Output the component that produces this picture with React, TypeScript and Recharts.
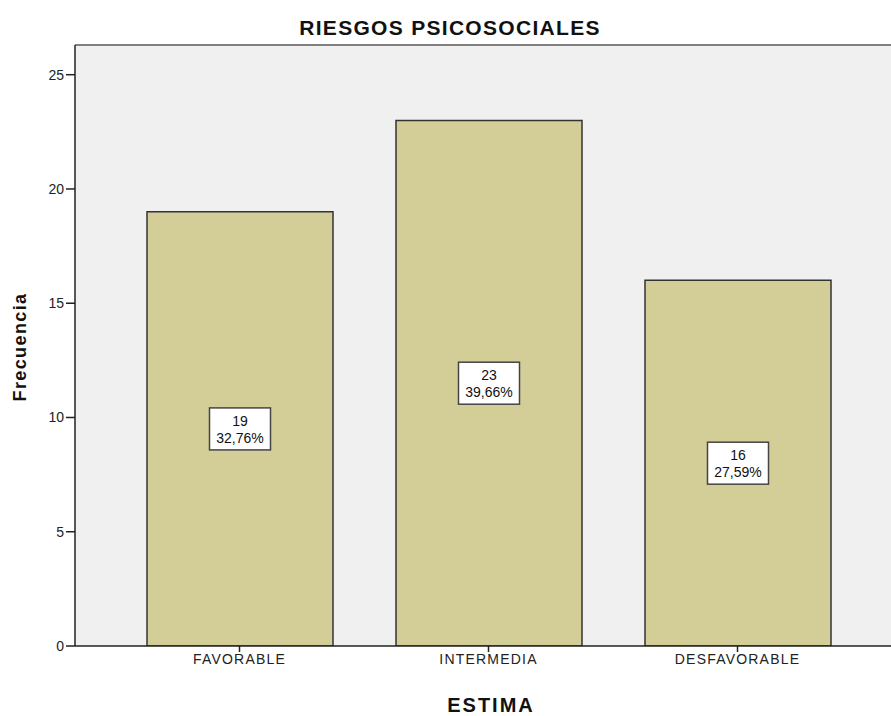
import React from "react";
import {
  BarChart,
  Bar,
  XAxis,
  YAxis,
  CartesianGrid,
  ReferenceLine,
  LabelList,
  Label,
} from "recharts";

const categories = ["FAVORABLE", "INTERMEDIA", "DESFAVORABLE"];
const counts = [19, 23, 16];
const percents = ["32,76%", "39,66%", "27,59%"];
const yTicks = [0, 5, 10, 15, 20, 25];

const data = categories.map((c, i) => ({ name: c, value: counts[i], pct: percents[i] }));

const FONT = "'Liberation Sans', Arial, sans-serif";
const Y_MAX = 26.3;

function BoxLabel(props: any) {
  const { x, y, width, height, index } = props;
  const cx = x + width / 2;
  const cy = y + height / 2;
  const w = 61;
  const h = 42;
  return (
    <g>
      <rect x={cx - w / 2} y={cy - h / 2} width={w} height={h} fill="#fff" stroke="#444" strokeWidth={1.5} />
      <text x={cx} y={cy - 3} textAnchor="middle" fontSize={14} fontFamily={FONT} fill="#111">
        {counts[index]}
      </text>
      <text x={cx} y={cy + 14} textAnchor="middle" fontSize={14} fontFamily={FONT} fill="#111">
        {percents[index]}
      </text>
    </g>
  );
}

// axis titles drawn at fixed spots around the plot
function YTitle() {
  return (
    <text
      x={20}
      y={347}
      transform="rotate(-90, 20, 347)"
      textAnchor="middle"
      dominantBaseline="central"
      fontFamily={FONT}
      fontWeight="bold"
      fontSize={18}
      letterSpacing={1.4}
      fill="#111"
    >
      Frecuencia
    </text>
  );
}

function XTitle() {
  return (
    <text
      x={491}
      y={712}
      textAnchor="middle"
      fontFamily={FONT}
      fontWeight="bold"
      fontSize={20}
      letterSpacing={2}
      fill="#111"
    >
      ESTIMA
    </text>
  );
}

export default function App() {
  return (
    <div style={{ position: "absolute", left: 0, top: 0, width: 891, height: 716, background: "#fff" }}>
      <div
        style={{
          position: "absolute",
          top: 16,
          left: 0,
          width: 900,
          textAlign: "center",
          fontFamily: FONT,
          fontWeight: "bold",
          fontSize: 21,
          letterSpacing: 1.3,
          color: "#111",
        }}
      >
        RIESGOS PSICOSOCIALES
      </div>
      <BarChart
        width={891}
        height={716}
        data={data}
        margin={{ top: 45, right: 0, left: 0, bottom: 0 }}
        barSize={186}
      >
        <CartesianGrid fill="#F0F0F0" horizontal={false} vertical={false} />
        <ReferenceLine y={Y_MAX} stroke="#808080" strokeWidth={2} ifOverflow="extendDomain" />
        <XAxis
          dataKey="name"
          height={70}
          padding={{ left: 40, right: 29 }}
          axisLine={{ stroke: "#222", strokeWidth: 1.5 }}
          tickLine={{ stroke: "#222", strokeWidth: 1.5 }}
          tickSize={6}
          tick={{ fill: "#222", fontSize: 14, fontFamily: FONT, letterSpacing: 1.2 }}
          interval={0}
        >
          <Label content={XTitle} />
        </XAxis>
        <YAxis
          width={75}
          domain={[0, Y_MAX]}
          ticks={yTicks}
          allowDataOverflow
          axisLine={{ stroke: "#222", strokeWidth: 1.5 }}
          tickLine={{ stroke: "#222", strokeWidth: 1.5 }}
          tickSize={9}
          tick={{ fill: "#222", fontSize: 14, fontFamily: FONT }}
        >
          <Label content={YTitle} />
        </YAxis>
        <Bar dataKey="value" fill="#D3CE97" stroke="#333" strokeWidth={1.5} isAnimationActive={false}>
          <LabelList dataKey="value" content={BoxLabel} />
        </Bar>
      </BarChart>
    </div>
  );
}
